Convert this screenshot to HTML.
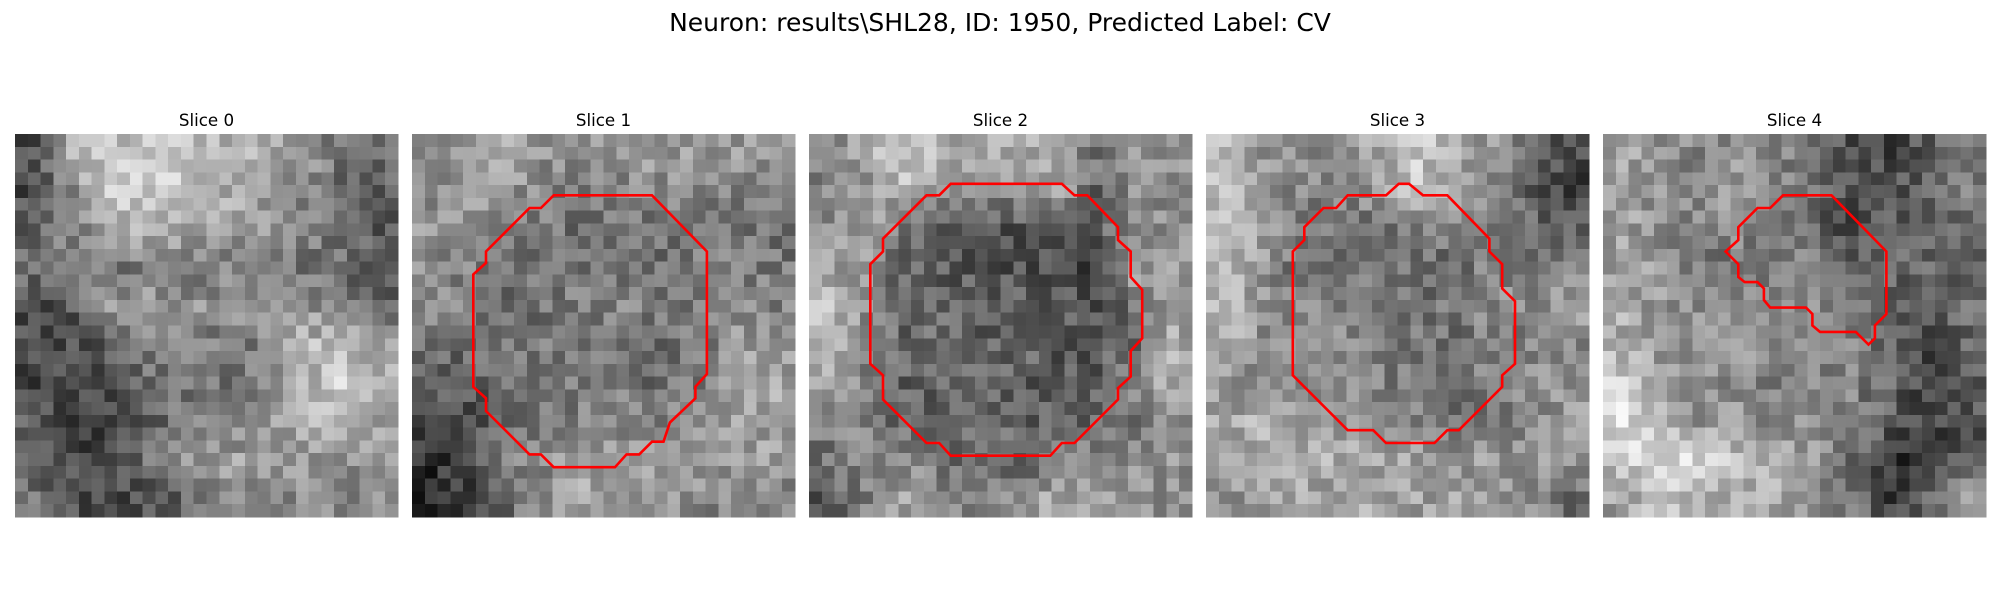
<!DOCTYPE html>
<html><head><meta charset="utf-8"><style>
html,body{margin:0;padding:0;background:#fff;}
svg{display:block;}
text{font-family:"DejaVu Sans","Liberation Sans",sans-serif;fill:#000;}
</style></head><body>
<svg id="fig" width="2000" height="600" viewBox="0 0 2000 600" xmlns="http://www.w3.org/2000/svg">
<rect width="2000" height="600" fill="#fff"/>
<text x="1000" y="31" font-size="25" text-anchor="middle">Neuron: results\SHL28, ID: 1950, Predicted Label: CV</text>
<g id="panels"></g>
</svg>
<script>
// coarse 10x10 brightness maps per slice (estimated from reference)
const slice0 = [
[80,170,190,200,190,180,170,150,120,110],
[70,140,200,210,200,170,160,140,110,100],
[100,130,170,180,170,160,150,130,110,90],
[110,120,120,130,120,130,140,120,110,90],
[80,90,150,160,150,140,150,150,130,110],
[70,80,100,130,130,120,130,180,190,170],
[70,70,70,110,120,110,130,180,200,190],
[90,70,70,100,120,130,150,170,170,160],
[100,70,80,110,150,160,150,160,150,150],
[110,80,70,80,100,130,140,140,130,140]];
const slice1 = [
[140,160,170,150,150,160,150,160,150,140],
[140,150,150,130,130,130,140,130,130,120],
[150,140,130,120,110,110,120,130,120,110],
[140,130,110,110,120,120,110,120,130,120],
[140,130,110,120,130,130,120,130,140,130],
[120,110,110,120,120,120,110,120,150,140],
[90,90,110,120,120,120,110,120,170,170],
[70,80,110,120,130,130,130,140,170,160],
[50,70,120,140,160,160,150,150,160,150],
[40,60,110,140,160,150,150,140,130,130]];
const slice2 = [
[140,170,200,180,160,170,170,120,150,150],
[130,150,180,140,140,150,160,100,150,130],
[150,160,120,100,70,80,80,90,150,140],
[170,140,100,90,90,80,80,70,160,150],
[190,150,100,100,90,100,90,80,120,160],
[190,140,100,120,100,110,90,90,110,170],
[170,130,100,100,110,90,90,90,150,170],
[140,130,100,100,110,100,90,100,120,150],
[110,140,140,110,110,100,120,140,140,150],
[90,130,160,140,130,140,170,160,150,140]];
const slice3 = [
[180,150,140,140,170,200,170,150,110,70],
[190,160,130,130,150,190,170,130,90,50],
[180,170,120,110,120,120,130,130,110,100],
[170,150,110,120,120,110,110,140,120,140],
[190,150,130,130,120,110,120,140,140,150],
[170,140,140,140,120,120,110,130,130,140],
[150,140,130,140,130,120,110,130,140,150],
[170,170,150,150,140,130,120,120,140,160],
[170,180,170,170,160,160,150,150,150,150],
[150,150,170,160,170,160,160,150,140,110]];
const slice4 = [
[160,150,130,150,140,110,80,70,100,110],
[160,150,140,160,140,110,80,80,100,130],
[160,140,140,150,120,100,70,90,90,110],
[160,150,120,110,110,140,100,100,100,100],
[170,150,140,140,140,140,120,90,90,110],
[170,150,140,150,140,140,130,100,80,100],
[200,170,140,140,130,130,130,100,70,90],
[220,190,150,150,140,140,130,90,60,80],
[200,220,210,190,180,160,110,60,40,110],
[160,190,190,170,170,140,120,60,100,160]];
// contours in pixel-grid units [col,row]
const contour1 = [[11.1,4.8],[18.8,4.8],[23.1,9.2],[23.1,18.8],[22.2,19.8],[22.2,20.7],[20.2,22.6],[19.7,24.1],[18.8,24.1],[17.8,25.1],[16.8,25.1],[15.9,26.1],[11.1,26.1],[10.1,25.1],[9.2,25.1],[5.8,21.7],[5.8,20.7],[4.8,19.8],[4.8,11.0],[5.8,10.1],[5.8,9.2],[9.2,5.8],[10.1,5.8]];
const contour2 = [[11.1,3.9],[19.8,3.9],[20.8,4.8],[21.8,4.8],[24.2,7.3],[24.2,8.3],[25.2,9.2],[25.2,11.2],[26.1,12.2],[26.1,16.0],[25.2,17.0],[25.2,19.0],[24.2,19.9],[24.2,20.8],[20.8,24.2],[19.8,24.2],[18.9,25.2],[11.1,25.2],[10.2,24.2],[9.2,24.2],[5.8,20.8],[5.8,18.9],[4.8,18.0],[4.8,10.2],[5.8,9.2],[5.8,8.2],[9.2,4.8],[10.2,4.8]];
const contour3 = [[15.1,3.9],[15.9,3.9],[17.0,4.8],[18.9,4.8],[22.2,8.2],[22.2,9.2],[23.2,10.2],[23.2,12.1],[24.2,13.1],[24.2,18.0],[23.2,18.9],[23.2,19.8],[19.8,23.2],[18.9,23.2],[17.9,24.2],[14.1,24.2],[13.1,23.2],[11.1,23.2],[6.8,18.9],[6.8,9.2],[7.7,8.3],[7.7,7.3],[9.2,5.8],[10.2,5.8],[11.1,4.8],[14.1,4.8]];
const contour4 = [[14.1,4.8],[17.9,4.8],[22.2,9.2],[22.2,14.1],[21.3,15.0],[21.3,16.0],[20.8,16.5],[19.8,15.5],[17.0,15.5],[16.4,15.0],[16.4,14.1],[15.9,13.6],[13.1,13.6],[12.6,13.0],[12.6,12.1],[12.1,11.6],[11.1,11.6],[10.6,11.2],[10.6,10.2],[9.6,9.2],[10.6,8.3],[10.6,7.3],[12.1,5.8],[13.1,5.8]];
const sliceTitles = ["Slice 0","Slice 1","Slice 2","Slice 3","Slice 4"];

const maps=[slice0,slice1,slice2,slice3,slice4];
const contours=[null,contour1,contour2,contour3,contour4];
const NS="http://www.w3.org/2000/svg";
const N=30, X0=15, STEP=397, Y0=134, SIZE=383, CELL=SIZE/N;
function hash(a,b,c){let h=(a*374761393+b*668265263+c*2147483647)>>>0;h=((h^(h>>>13))*1274126177)>>>0;return ((h^(h>>>16))>>>0)/4294967295;}
function coarse(m,r,c){
  const fr=Math.min(9,Math.max(0,(r+0.5)/3-0.5)), fc=Math.min(9,Math.max(0,(c+0.5)/3-0.5));
  const r0=Math.floor(fr),c0=Math.floor(fc),r1=Math.min(9,r0+1),c1=Math.min(9,c0+1);
  const tr=fr-r0,tc=fc-c0;
  return (m[r0][c0]*(1-tc)+m[r0][c1]*tc)*(1-tr)+(m[r1][c0]*(1-tc)+m[r1][c1]*tc)*tr;
}
const root=document.getElementById('panels');
maps.forEach((m,k)=>{
  const g=document.createElementNS(NS,'g');
  
  
  const x0=X0+k*STEP;
  const t=document.createElementNS(NS,'text');
  
  
  t.setAttribute('x',x0+SIZE/2);t.setAttribute('y',126);
  t.setAttribute('font-size','16.7');t.setAttribute('text-anchor','middle');
  t.textContent=sliceTitles[k];
  g.appendChild(t);
  const img=document.createElementNS(NS,'g');
  
  
  img.setAttribute('shape-rendering','crispEdges');
  for(let r=0;r<N;r++)for(let c=0;c<N;c++){
    let v=coarse(m,r,c)+(hash(r,c,k+1)-0.5)*70;
    v=Math.round(Math.max(0,Math.min(255,v)));
    const re=document.createElementNS(NS,'rect');
    re.setAttribute('x',(x0+c*CELL).toFixed(2));re.setAttribute('y',(Y0+r*CELL).toFixed(2));
    re.setAttribute('width',(CELL+0.6).toFixed(2));re.setAttribute('height',(CELL+0.6).toFixed(2));
    re.setAttribute('fill',`rgb(${v},${v},${v})`);
    img.appendChild(re);
  }
  g.appendChild(img);
  if(contours[k]){
    const p=document.createElementNS(NS,'polygon');
    
    
    p.setAttribute('points',contours[k].map(([c,r])=>(x0+c*CELL).toFixed(1)+','+(Y0+r*CELL).toFixed(1)).join(' '));
    p.setAttribute('fill','none');p.setAttribute('stroke','#ff0000');p.setAttribute('stroke-width','2.6');
    g.appendChild(p);
  }
  root.appendChild(g);
});
</script>
</body></html>
